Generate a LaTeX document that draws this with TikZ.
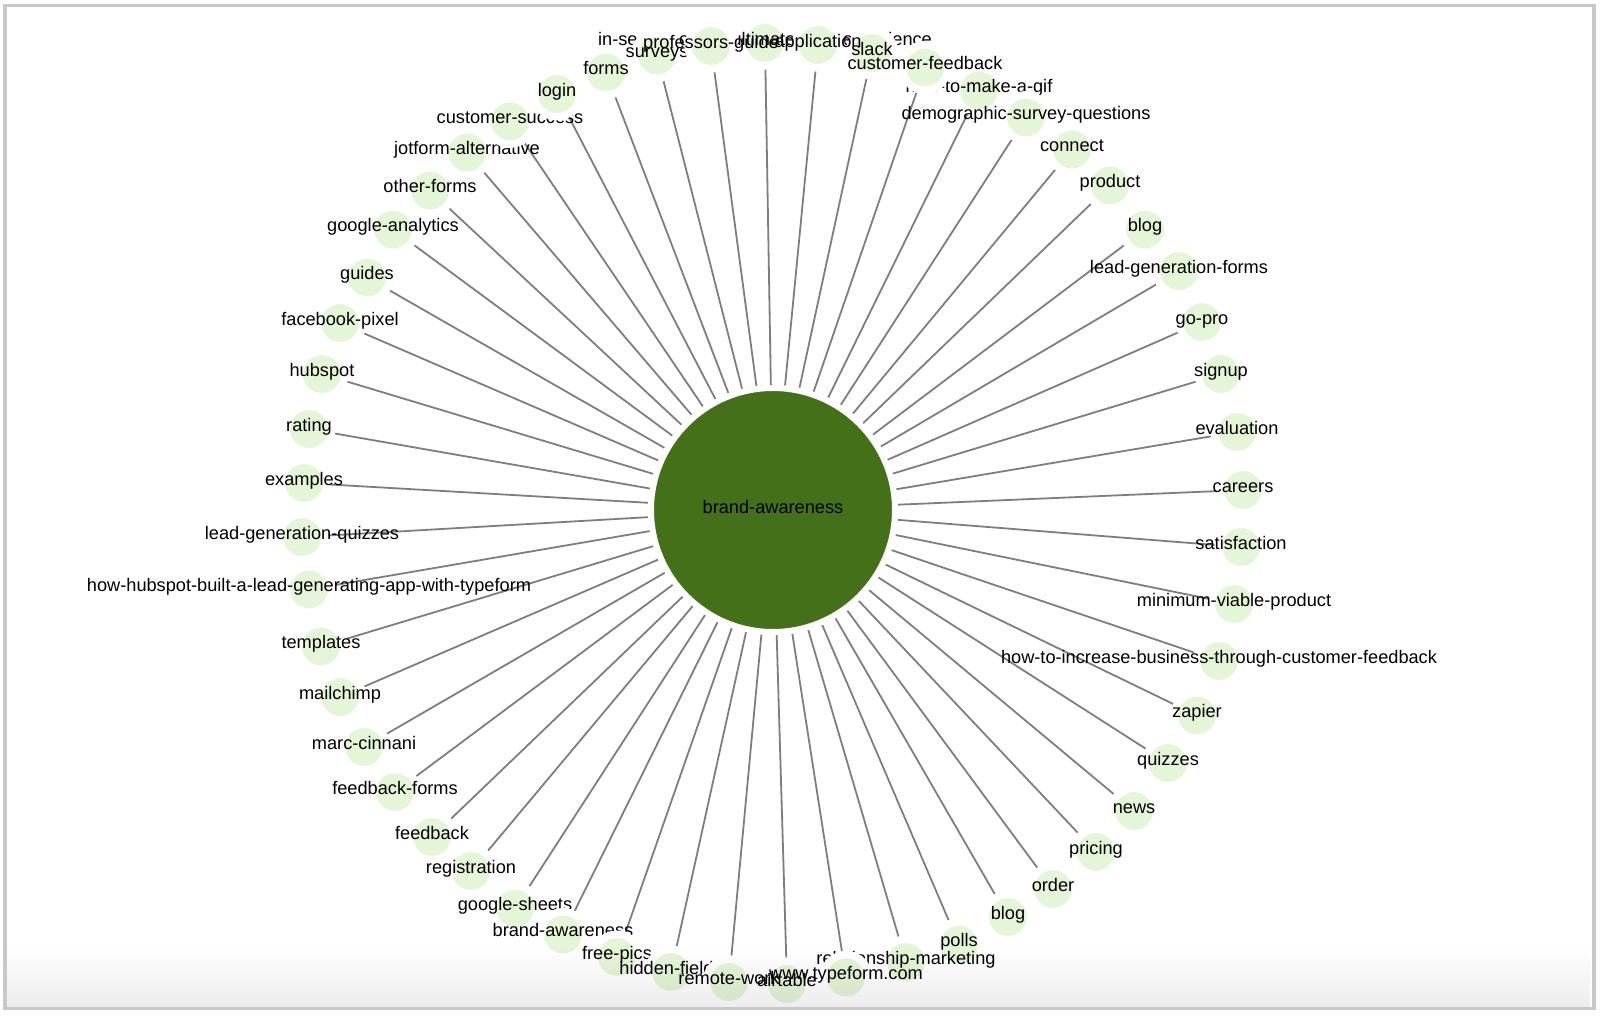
\documentclass[tikz,border=0pt]{standalone}
\usepackage{fontspec}
\setmainfont{Liberation Sans}
\usetikzlibrary{fadings}
\pgfdeclarelayer{back}
\pgfdeclarelayer{links}
\pgfdeclarelayer{front}
\pgfsetlayers{back,links,main,front}
\definecolor{hubgreen}{RGB}{67,112,24}
\definecolor{dotgreen}{RGB}{229,245,215}
\definecolor{linkgray}{RGB}{126,126,126}
\definecolor{framegray}{RGB}{200,200,200}
\begin{document}
\begin{tikzpicture}[x=1pt,y=-1pt,
  hub/.style={circle, fill=hubgreen, draw=white, line width=6pt, minimum size=244pt, inner sep=0pt, outer sep=3pt},
  dot/.style={circle, fill=dotgreen, draw=white, line width=7.5pt, minimum size=45.5pt, inner sep=0pt, outer sep=3.75pt},
  lbl/.style={font=\fontsize{18.2}{20}\selectfont, text=black, inner sep=0pt, anchor=base},
  link/.style={draw=linkgray, line width=1.8pt}]
\useasboundingbox (0,0) rectangle (1600,1016);
\begin{pgfonlayer}{back}
\fill[white] (0,0) rectangle (1600,1016);
\end{pgfonlayer}
\node[hub] (hub) at (773,510) {};
\node[lbl] (hubtext) at ([yshift=-3.3pt]hub.center) {brand-awareness};
\foreach \k/\x/\y/\t in {
0/765/41/in-search-of-the-ultimate-user-experience,
2/872/51/slack,
1/818/43/application,
4/979/88.5/how-to-make-a-gif,
3/925/65.5/customer-feedback,
5/1026/115.5/demographic-survey-questions,
6/1072/147.5/connect,
7/1110/183.5/product,
8/1145/227.5/blog,
9/1179/269/lead-generation-forms,
10/1202/320/go-pro,
11/1221/372/signup,
12/1237/430/evaluation,
13/1243/488/careers,
14/1241/545/satisfaction,
15/1234/602/minimum-viable-product,
16/1219/659/how-to-increase-business-through-customer-feedback,
17/1197/713.5/zapier,
18/1168/761/quizzes,
19/1134/809/news,
20/1096/850/pricing,
21/1053/887/order,
22/1008/915/blog,
23/959/942.5/polls,
24/906/960/relationship-marketing,
26/787/982/airtable,
25/846/975.5/www.typeform.com,
31/515/906.5/google-sheets,
30/563/932.5/brand-awareness,
29/617/955/free-pics,
28/671/970/hidden-fields,
27/729/980/remote-work,
33/432/835/feedback,
32/471/869/registration,
34/395/790/feedback-forms,
35/364/745/marc-cinnani,
36/340/695/mailchimp,
37/321/644.5/templates,
38/309/587.5/how-hubspot-built-a-lead-generating-app-with-typeform,
39/302/535/lead-generation-quizzes,
40/304/481/examples,
41/309/427/rating,
42/322/372/hubspot,
43/340/321/facebook-pixel,
44/367/275.5/guides,
45/393/227.5/google-analytics,
46/430/188.5/other-forms,
47/467/150.5/jotform-alternative,
48/510/119.5/customer-success,
49/557/92/login,
50/606/70.5/forms,
51/657/53.5/surveys,
52/711/44/professors-guide}{
  \node[dot] (n\k) at (\x,{\y+2}) {};
  \node[lbl] (t\k) at ([yshift=-2.3pt]n\k.center) {\t};
}
\begin{pgfonlayer}{links}
\foreach \k in {0,...,52} \draw[link] (hub) -- (n\k);
\end{pgfonlayer}
\begin{pgfonlayer}{front}
\fill[black, opacity=0.07, path fading=north] (6.5,945) rectangle (1592.2,1006.5);
\draw[framegray, line width=3.5pt] (4.8,5.7) rectangle (1594,1008.3);
\end{pgfonlayer}
\end{tikzpicture}
\end{document}
